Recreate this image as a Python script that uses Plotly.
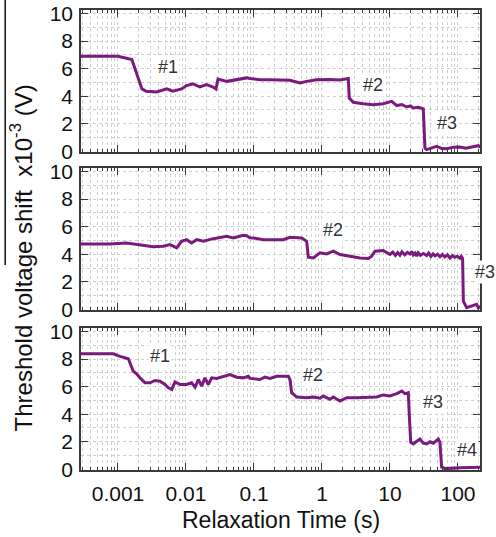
import plotly.graph_objects as go

# ---------------- data ----------------
t1 = [0.00028, 0.001, 0.0016, 0.00225, 0.0026, 0.0037, 0.0052, 0.0064, 0.0086, 0.0102,
      0.0127, 0.016, 0.020, 0.025, 0.0276, 0.0296, 0.040, 0.056, 0.078, 0.087,
      0.122, 0.172, 0.338, 0.474, 0.595, 0.835, 1.31, 1.84, 2.44, 2.52,
      2.89, 4.05, 5.68, 7.97, 10.6, 12.6, 15.0, 17.6, 20.0, 22.0,
      26.0, 30.9, 32.7, 34.7, 41.0, 48.6, 58.0, 68.2, 85.0, 107,
      130, 168, 199, 215]
v1 = [6.9, 6.9, 6.66, 4.53, 4.36, 4.31, 4.53, 4.36, 4.53, 4.77,
      4.9, 4.67, 4.84, 4.67, 4.53, 5.25, 5.08, 5.2, 5.33, 5.28,
      5.2, 5.2, 5.16, 4.96, 5.08, 5.2, 5.22, 5.18, 5.28, 3.87,
      3.56, 3.46, 3.39, 3.46, 3.63, 3.32, 3.40, 3.22, 3.30, 3.15,
      3.20, 3.08, 0.24, 0.12, 0.25, 0.36, 0.20, 0.19, 0.30, 0.31,
      0.22, 0.36, 0.41, 0.30]

t2 = [0.00028, 0.00076, 0.00134, 0.00211, 0.0033, 0.00464, 0.00582, 0.0073, 0.0086, 0.0102,
      0.0121, 0.0144, 0.018, 0.0252, 0.0397, 0.0497, 0.0697, 0.078, 0.087, 0.098,
      0.137, 0.192, 0.27, 0.338, 0.503, 0.595, 0.63, 0.745, 0.935, 1.17,
      1.47, 1.84, 2.58, 3.62, 4.8, 5.38, 6.02, 7.97, 10, 11,
      12, 13, 14, 15, 16.5, 18, 19.7, 21, 22, 23.5,
      24.7, 26, 28, 31, 34.7, 37, 40, 43, 46, 50,
      54.3, 59, 64, 70, 76.2, 83, 90, 98, 107, 112,
      117, 120, 134, 159, 188, 199, 215]
v2 = [4.75, 4.75, 4.82, 4.7, 4.55, 4.58, 4.7, 4.46, 4.94, 5.06,
      4.82, 5.06, 4.94, 5.13, 5.3, 5.18, 5.37, 5.35, 5.2, 5.18,
      5.06, 5.06, 5.06, 5.23, 5.18, 4.94, 3.78, 3.73, 4.1, 4.02,
      4.22, 3.98, 3.86, 3.73, 3.69, 3.86, 4.22, 4.27, 3.98, 4.15,
      3.92, 4.12, 3.93, 4.18, 3.95, 4.14, 4.02, 4.2, 3.95, 4.08,
      3.86, 4.1, 3.92, 4.05, 3.9, 4.08, 3.85, 4.02, 3.88, 4.0,
      3.82, 3.98, 3.8, 3.95, 3.73, 3.9, 3.78, 3.86, 3.7, 3.84,
      3.69, 0.6, 0.12, 0.24, 0.36, 0.12, 0.2]

t3 = [0.00028, 0.00085, 0.00107, 0.00142, 0.00168, 0.00188, 0.00211, 0.0025, 0.00296, 0.0035,
      0.00415, 0.0049, 0.0055, 0.0062, 0.0069, 0.0082, 0.0102, 0.0121, 0.0136, 0.0152,
      0.017, 0.019, 0.0213, 0.0239, 0.0283, 0.0354, 0.0444, 0.0557, 0.0697, 0.0825,
      0.087, 0.122, 0.145, 0.172, 0.216, 0.32, 0.338, 0.358, 0.425, 0.595,
      0.745, 0.935, 1.045, 1.31, 1.47, 1.84, 2.31, 3.24, 4.54, 6.38,
      7.97, 10, 12.6, 14.9, 16.6, 18.6, 19.2, 20.2, 22, 24.5,
      27.6, 31, 34.7, 39, 43.4, 51.4, 54.3, 57.5, 64.4, 107, 199, 215]
v3 = [8.39, 8.39, 8.2, 8.03, 7.12, 6.93, 6.64, 6.28, 6.28, 6.45,
      6.4, 6.16, 5.92, 5.8, 6.35, 6.16, 6.16, 6.28, 5.97, 6.52,
      6.04, 6.64, 6.16, 6.64, 6.6, 6.76, 6.88, 6.69, 6.64, 6.76,
      6.6, 6.52, 6.69, 6.6, 6.76, 6.76, 6.52, 5.56, 5.25, 5.2,
      5.25, 5.16, 5.32, 5.08, 5.25, 4.96, 5.2, 5.2, 5.2, 5.25,
      5.4, 5.32, 5.49, 5.68, 5.49, 5.56, 4.0, 1.97, 1.85, 2.0,
      2.2, 1.9, 1.85, 2.0, 1.9, 2.2, 1.97, 0.17, 0.05, 0.12, 0.17, 0.15]

x_tickvals = [0.001, 0.01, 0.1, 1, 10, 100]
x_ticktext = ["0.001", "0.01", "0.1", "1", "10", "100"]
y_tickvals = [0, 2, 4, 6, 8, 10]
x_minor = [k * 10.0 ** e for e in range(-4, 3) for k in range(2, 10)]

# annotation labels per panel: (text, paper x, paper y)
labels = [
    ("#1", 0.2173, 0.8767), ("#2", 0.7326, 0.8370), ("#3", 0.9165, 0.7537),
    ("#2", 0.6323, 0.5217), ("#3", 1.0125, 0.4311),
    ("#1", 0.1980, 0.2485), ("#2", 0.5807, 0.2065), ("#3", 0.8830, 0.1485),
    ("#4", 0.9667, 0.0435),
]

# ---------------- figure ----------------
LINE = "#7a1a7e"
AX = "#3a3a3a"
GRID = "#cfcfcf"
FONT = "Liberation Sans, Arial, sans-serif"

fig = go.Figure()
series = [(t1, v1), (t2, v2), (t3, v3)]
for i, (t, v) in enumerate(series, start=1):
    fig.add_trace(go.Scatter(x=t, y=v, mode="lines",
                             line=dict(color=LINE, width=3),
                             xaxis=f"x{i}", yaxis=f"y{i}", showlegend=False,
                             hoverinfo="skip"))

domains = [[0.6913, 1.0], [0.3478, 0.6565], [0.0, 0.3087]]
layout = dict(
    width=496, height=537,
    margin=dict(l=81, r=16, t=10, b=67, autoexpand=False),
    paper_bgcolor="white", plot_bgcolor="white",
    font=dict(family=FONT, size=21, color="#111"),
    showlegend=False,
)
for i in range(1, 4):
    layout[f"xaxis{i}"] = dict(
        type="log", range=[-3.544, 2.324], domain=[0, 1], anchor=f"y{i}",
        automargin=False, ticklabeloverflow="allow",
        showline=True, linecolor=AX, linewidth=1.5, mirror="allticks",
        ticks="inside", ticklen=7, tickwidth=1.2, tickcolor=AX,
        tickmode="array", tickvals=x_tickvals, ticktext=x_ticktext,
        showticklabels=(i == 3), ticklabelstandoff=4,
        showgrid=True, gridcolor=GRID, griddash="dot", gridwidth=1,
        minor=dict(tickmode="array", tickvals=x_minor, ticks="inside", ticklen=3.5,
                   tickwidth=1, tickcolor=AX, showgrid=True, gridcolor=GRID,
                   griddash="dot", gridwidth=1),
        zeroline=False, tickfont=dict(size=21, family=FONT, color="#111"),
    )
    layout[f"yaxis{i}"] = dict(
        range=[-0.05, 10.26], domain=domains[i - 1], anchor=f"x{i}",
        automargin=False, ticklabeloverflow="allow",
        showline=True, linecolor=AX, linewidth=1.5, mirror="allticks",
        ticks="inside", ticklen=7, tickwidth=1.2, tickcolor=AX,
        tickmode="array", tickvals=y_tickvals,
        showgrid=True, gridcolor=GRID, griddash="dot", gridwidth=1,
        minor=dict(dtick=1, ticks="", showgrid=True, gridcolor=GRID,
                   griddash="dot", gridwidth=1),
        zeroline=False, tickfont=dict(size=21, family=FONT, color="#111"),
        ticklabelstandoff=2,
    )
fig.update_layout(**layout)

annos = []
for txt, ax_, ay_ in labels:
    annos.append(dict(text=txt, x=ax_, y=ay_, xref="paper", yref="paper",
                      showarrow=False, xanchor="center", yanchor="middle",
                      font=dict(size=18, family=FONT, color="#333"),
                      bgcolor="white", borderpad=1))
annos.append(dict(text="Relaxation Time (s)", x=0.5, y=-0.109, xref="paper", yref="paper",
                  showarrow=False, xanchor="center", yanchor="middle",
                  font=dict(size=23, family=FONT, color="#111")))
annos.append(dict(text="Threshold voltage shift&nbsp;&nbsp;x10<sup>-3</sup> (V)",
                  x=-0.148, y=0.462, xref="paper", yref="paper", textangle=-90,
                  showarrow=False, xanchor="center", yanchor="middle",
                  font=dict(size=24, family=FONT, color="#111")))
fig.update_layout(annotations=annos)

fig.add_shape(type="line", xref="paper", yref="paper",
              x0=-0.19, x1=-0.19, y0=0.4457, y1=1.03,
              line=dict(color="#111", width=1.5))

fig.write_html("out.html", config={"displayModeBar": False},
               post_script="document.body.style.margin='0px';document.body.style.padding='0px';")
